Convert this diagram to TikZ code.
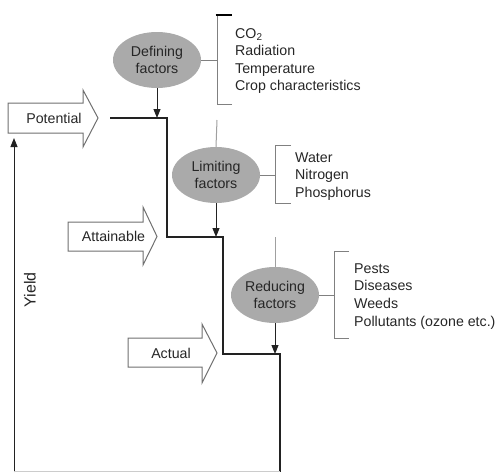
\documentclass[tikz,border=0pt]{standalone}
\usepackage{fontspec}
\setmainfont{Liberation Sans}
\usetikzlibrary{arrows.meta,shapes.geometric}
\definecolor{ellgray}{HTML}{AAAAAA}
\definecolor{txt}{HTML}{262626}
\definecolor{stairc}{HTML}{222222}
\definecolor{brk}{HTML}{808080}
\definecolor{feedc}{HTML}{A0A0A0}
\definecolor{outl}{HTML}{707070}
\begin{document}
\begin{tikzpicture}[x=1pt,y=-1pt,
  font=\fontsize{14.2}{17.5}\selectfont,
  factor/.style={ellipse, fill=ellgray, minimum width=88pt, minimum height=56pt, inner sep=0pt, align=center, text=txt},
  stair/.style={line width=1.8pt, draw=stairc},
  bracketline/.style={draw=brk, line width=0.9pt},
  feed/.style={draw=feedc, line width=1pt},
  tipline/.style={-{Triangle[width=7pt,length=9pt]}, draw=stairc, fill=stairc, line width=1pt},
  blockarrow/.style={draw=outl, line width=1pt, fill=white},
  item/.style={anchor=base west, inner sep=0pt, text=txt},
  label/.style={inner sep=0pt, text=txt}
]
\useasboundingbox (0,0) rectangle (501,472);

% factor ellipses
\node[factor] (def) at (157,60) {Defining\\factors};
\node[factor] (lim) at (216,175) {Limiting\\factors};
\node[factor] (red) at (275,295) {Reducing\\factors};

% staircase
\coordinate (s0) at (110,118);
\coordinate (s1) at (167,118);
\coordinate (s2) at (167,237);
\coordinate (s3) at (223,237);
\coordinate (s4) at (223,354);
\coordinate (s5) at (280,354);
\coordinate (s6) at (280,472);
\draw[stair] (s0) -- (s1) -- (s2) -- (s3) -- (s4) -- (s5) -- (s6);

% arrows from factors to staircase
\draw[tipline] (def.south) -- (def.south |- s0);
\draw[tipline] (lim.south) -- (lim.south |- s2);
\draw[tipline] (red.south) -- (red.south |- s4);

% feed lines
\coordinate (f1) at (217,120);
\coordinate (f2) at (275,237);
\draw[feed] (f1) -- (lim.north);
\draw[feed] (f2) -- (red.north);

% brackets
\coordinate (b1t) at (217,15);
\coordinate (b1b) at (217,104);
\draw[bracketline] (232,104) -- (b1b) -- (b1t);
\draw[line width=2pt, black] (215.5,15) -- (232,15);
\draw[bracketline] (def.east) -- (def.east -| b1t);

\coordinate (b2t) at (275,145);
\coordinate (b2b) at (275,203);
\draw[bracketline] (291,145) -- (b2t) -- (b2b) -- (291,203);
\draw[bracketline] (lim.east) -- (lim.east -| b2t);

\coordinate (b3t) at (334,251);
\coordinate (b3b) at (334,338);
\draw[bracketline] (349,251) -- (b3t) -- (b3b) -- (349,338);
\draw[bracketline] (red.east) -- (red.east -| b3t);

% lists
\node[item] (d1) at (235,38) {CO\textsubscript{2}};
\node[item] (d2) at (235,55.6) {Radiation};
\node[item] (d3) at (235,73.2) {Temperature};
\node[item] (d4) at (235,90.8) {Crop characteristics};

\node[item] (l1) at (295,162) {Water};
\node[item] (l2) at (295,179.5) {Nitrogen};
\node[item] (l3) at (295,197) {Phosphorus};

\node[item] (r1) at (354,273) {Pests};
\node[item] (r2) at (354,290.7) {Diseases};
\node[item] (r3) at (354,308.3) {Weeds};
\node[item] (r4) at (354,326) {Pollutants (ozone etc.)};

% block arrows
\draw[blockarrow] (8,103) -- (83,103) -- (83,90) -- (98,118) -- (83,147) -- (83,133) -- (8,133) -- cycle;
\node[label] (pot) at (54,118) {Potential};
\draw[blockarrow] (68,222) -- (143,222) -- (143,207) -- (157,236.5) -- (143,265) -- (143,251) -- (68,251) -- cycle;
\node[label] (att) at (113.5,236.5) {Attainable};
\draw[blockarrow] (128,338) -- (202,338) -- (202,324) -- (217,353) -- (202,383) -- (202,367) -- (128,367) -- cycle;
\node[label] (act) at (171,353) {Actual};

% yield axis
\coordinate (y0) at (14,472);
\coordinate (y1) at (14,138);
\draw[tipline] (y0) -- (y1);
\draw[draw=black!20, line width=1pt] (14,471.5) -- (280,471.5);
\node[label, rotate=90, font=\fontsize{16}{18}\selectfont] (yl) at (30,290) {Yield};
\end{tikzpicture}
\end{document}
